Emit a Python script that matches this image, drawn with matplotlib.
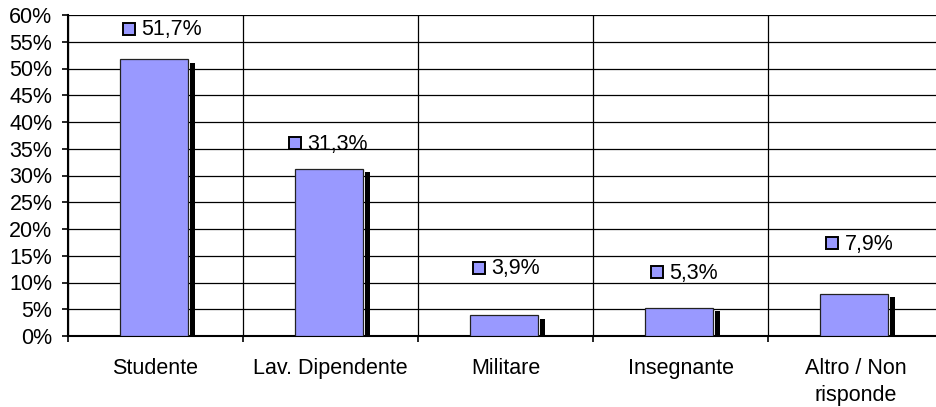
import matplotlib.pyplot as plt
import matplotlib.ticker as mticker
from matplotlib.transforms import offset_copy

categories = ["Studente", "Lav. Dipendente", "Militare", "Insegnante", "Altro / Non\nrisponde"]
values = [51.7, 31.3, 3.9, 5.3, 7.9]
value_labels = ["51,7%", "31,3%", "3,9%", "5,3%", "7,9%"]
# where Excel placed the data labels: height in % units, shift in px from category centre
label_y = [57.4, 36.0, 12.8, 11.9, 17.3]
label_dx = [-27, -36, -27, -24, -24]

plt.rcParams['font.family'] = ['Liberation Sans', 'DejaVu Sans']

W, H = 936, 407
fig = plt.figure(figsize=(W / 100, H / 100), dpi=100)
# axes runs a little past the right edge, like the original
left, right, top, bottom = 68, 943, 15, 336
ax = fig.add_axes([left / W, 1 - bottom / H, (right - left) / W, (bottom - top) / H])

blue = "#9999FF"
px = 0.72  # points per pixel at dpi 100
x = list(range(len(categories)))
bw = 0.39
off = -0.01

# shadow (black depth edge)
ax.bar([i + off + bw / 2 + 0.025 for i in x], [v - 0.7 for v in values], width=0.03,
       color="black", zorder=2)
ax.bar([i + off for i in x], values, width=bw, color=blue, edgecolor="#222222",
       linewidth=0.9, zorder=3)

for i, (lab, ly, dx) in enumerate(zip(value_labels, label_y, label_dx)):
    mtr = offset_copy(ax.transData, fig=fig, x=dx * px, y=0, units="points")
    ax.plot([i], [ly], marker="s", markersize=8.3, markerfacecolor=blue,
            markeredgecolor="black", markeredgewidth=1.4, linestyle="none",
            transform=mtr, zorder=4)
    ttr = offset_copy(ax.transData, fig=fig, x=(dx + 13) * px, y=-1 * px, units="points")
    ax.text(i, ly, lab, transform=ttr, ha="left", va="center", fontsize=15.5)

ax.set_xlim(-0.5, len(categories) - 0.5)
ax.set_ylim(0, 60)
ax.yaxis.set_major_locator(mticker.MultipleLocator(5))
ax.yaxis.set_major_formatter(mticker.FuncFormatter(lambda v, p: f"{v:.0f}%"))
ax.grid(axis="y", color="black", linewidth=0.9, zorder=0)

ax.set_xticks(x)
ax.set_xticklabels(categories, fontsize=15.5, linespacing=1.35)
ax.tick_params(axis="x", length=0, pad=16)
ax.set_xticks([i - 0.5 for i in range(len(categories) + 1)], minor=True)
ax.tick_params(axis="x", which="minor", length=6 * px, width=1.2, direction="out")
ax.grid(axis="x", which="minor", color="black", linewidth=0.9, zorder=0)
ax.tick_params(axis="y", labelsize=15.5, length=6 * px, width=1.2, pad=7)

for s in ["top", "right"]:
    ax.spines[s].set_visible(False)
ax.spines["left"].set_linewidth(1.5)
ax.spines["bottom"].set_linewidth(1.5)
ax.set_axisbelow(True)

fig.savefig("out.png", dpi=100)
